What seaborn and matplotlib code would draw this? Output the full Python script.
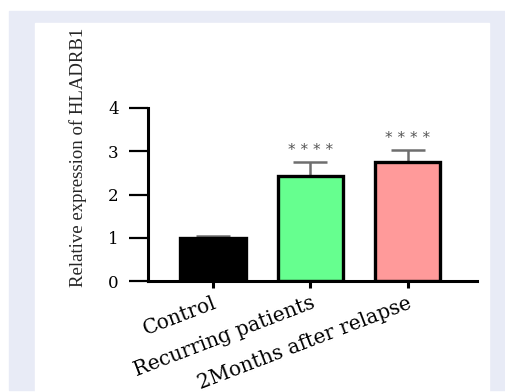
import numpy as np
import pandas as pd
import matplotlib.pyplot as plt
import matplotlib.transforms as mtransforms
import seaborn as sns
from matplotlib.patches import Rectangle

# data
groups = ["Control", "Recurring patients", "2Months after relapse"]
means = [1.0, 2.43, 2.76]
errs = [0.05, 0.33, 0.28]
stars = ["", "* * * *", "* * * *"]
bar_colors = ["#000000", "#66ff8f", "#ff9a9a"]
yticks = [0, 1, 2, 3, 4]

df = pd.DataFrame({"group": groups, "mean": means})

sns.set_style("ticks")

fig = plt.figure(figsize=(5.05, 3.92), dpi=100)
fig.patch.set_facecolor("white")

# page background frame
fig.patches.append(Rectangle((9/505, 1-390/392), (505-9)/505, (390-11)/392,
                             transform=fig.transFigure, color="#e8ebf6", zorder=-2))
fig.patches.append(Rectangle((35/505, 0), (489-35)/505, 1-23/392,
                             transform=fig.transFigure, color="white", zorder=-1))

ax = fig.add_axes([148/505, 1-281/392, (477-148)/505, (281-108)/392])
ax.set_facecolor("white")

sns.barplot(data=df, x="group", y="mean", hue="group", palette=bar_colors,
            legend=False, errorbar=None, width=0.67, saturation=1, ax=ax,
            edgecolor="black", linewidth=2.4)

ax.errorbar(np.arange(len(groups)), means, yerr=[np.zeros(len(errs)), errs],
            fmt="none", ecolor="#6e6e6e", elinewidth=1.8, capsize=12, capthick=1.8,
            zorder=0)

for i, s in enumerate(stars):
    if s:
        ax.text(i, means[i] + errs[i] + 0.08, s, ha="center", va="bottom",
                fontsize=11, color="#555555", family="DejaVu Sans")

ax.set_xlim(-0.667, 2.71)
ax.set_ylim(0, 4)
ax.set_yticks(yticks)
ax.set_yticklabels([str(t) for t in yticks], family="DejaVu Serif", fontsize=12)
ax.set_xticks(range(len(groups)))
ax.set_xticklabels(groups, rotation=21, ha="right", rotation_mode="anchor",
                   family="DejaVu Serif", fontsize=14.5)
shift = mtransforms.ScaledTranslation(-9/100, -2/100, fig.dpi_scale_trans)
for lab in ax.get_xticklabels():
    lab.set_transform(lab.get_transform() + shift)
ax.set_xlabel("")
ax.set_ylabel("Relative expression of HLADRB1", family="Liberation Serif",
              fontsize=13.5)
ax.yaxis.set_label_coords(-0.185, 0.717)

sns.despine(ax=ax)
for sp in ["left", "bottom"]:
    ax.spines[sp].set_linewidth(2.2)
    ax.spines[sp].set_color("black")
ax.tick_params(axis="y", length=14, width=1.6, pad=7, color="black", labelcolor="black")
ax.tick_params(axis="x", length=5, width=2.2, pad=4, color="black", labelcolor="black")

fig.savefig("out.png", dpi=100, facecolor=fig.get_facecolor())
